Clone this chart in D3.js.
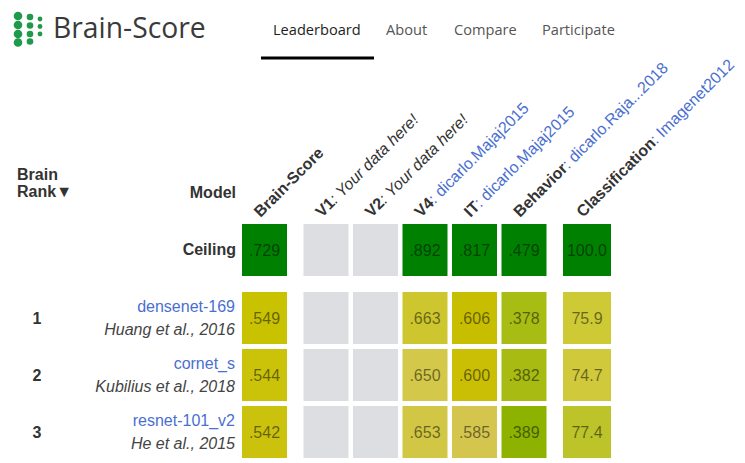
<!DOCTYPE html>
<html><head><meta charset="utf-8">
<script src="https://cdn.jsdelivr.net/npm/d3@7"></script>
<style>
html,body{margin:0;padding:0;background:#fff;}
svg{display:block;}
</style></head>
<body>
<svg id="chart" width="745" height="463"></svg>
<script>
// ---------- data ----------
const navItems = ["Leaderboard", "About", "Compare", "Participate"];
const columns = ["Brain-Score", "V1", "V2", "V4", "IT", "Behavior", "Classification"];
const columnGroups = [0, 1, 1, 1, 1, 1, 2];
const columnSubtitles = ["", ": Your data here!", ": Your data here!", ": dicarlo.Majaj2015", ": dicarlo.Majaj2015", ": dicarlo.Raja...2018", ": Imagenet2012"];
const subtitleIsLink = [false, false, false, true, true, true, true];
const ceilingValues = [0.729, null, null, 0.892, 0.817, 0.479, 100.0];
const ranks = [1, 2, 3];
const models = ["densenet-169", "cornet_s", "resnet-101_v2"];
const authors = ["Huang et al., 2016", "Kubilius et al., 2018", "He et al., 2015"];
const scoresDensenet = [0.549, null, null, 0.663, 0.606, 0.378, 75.9];
const scoresCornet = [0.544, null, null, 0.650, 0.600, 0.382, 74.7];
const scoresResnet = [0.542, null, null, 0.653, 0.585, 0.389, 77.4];
const modelScores = [scoresDensenet, scoresCornet, scoresResnet];
// cell colours as shown on the leaderboard
const ceilingColor = "#008000";
const emptyColor = "#dddee1";
const cellColors = [
  ["#c9c200", null, null, "#cdc62e", "#c8be00", "#a8bd14", "#cdca36"],
  ["#cac30a", null, null, "#d4c84a", "#cbbf05", "#a7bb12", "#d0c93c"],
  ["#cbc20e", null, null, "#d2c744", "#d4c54e", "#8db300", "#bcc42a"]
];

// ---------- drawing ----------
const svg = d3.select("#chart");
const sans = "'Liberation Sans', Arial, sans-serif";
const navFont = "'Open Sans', sans-serif";
const linkColor = "#4a6fd0";

// logo
const logoDots = [
  {cx: 18, cy: 16, r: 4.3}, {cx: 18, cy: 25, r: 4.3}, {cx: 18, cy: 34, r: 4.3}, {cx: 18, cy: 42.5, r: 4.3},
  {cx: 30, cy: 17, r: 3.3}, {cx: 30, cy: 25.5, r: 3.3}, {cx: 30, cy: 34, r: 3.3}, {cx: 30, cy: 41.5, r: 3.3},
  {cx: 40, cy: 19, r: 2.4}, {cx: 40, cy: 26.5, r: 2.4}, {cx: 40, cy: 34, r: 2.4}
];
svg.append("g").selectAll("circle").data(logoDots).join("circle")
  .attr("cx", d => d.cx).attr("cy", d => d.cy).attr("r", d => d.r).attr("fill", "#1e9a4a");
svg.append("text").attr("x", 53).attr("y", 38).attr("font-family", navFont)
  .attr("font-size", 28.3).attr("fill", "#3a3a3a").text("Brain-Score");

// nav
const navX = [273, 386, 454, 542];
svg.append("g").selectAll("text").data(navItems).join("text")
  .attr("x", (d, i) => navX[i]).attr("y", 34.5)
  .attr("font-family", navFont).attr("font-size", 14.6)
  .attr("fill", (d, i) => i === 0 ? "#1e1e1e" : "#555")
  .text(d => d);
svg.append("rect").attr("x", 261).attr("y", 56.5).attr("width", 113).attr("height", 3).attr("fill", "#000");

// scales
const step = 49.5, pad = 4.5 / 49.5;
const colBand = d3.scaleBand().domain(columns).range([242, 242 + step * (columns.length - pad)]).paddingInner(pad).paddingOuter(0);
const groupGap = 12;
const xCol = c => colBand(c) + columnGroups[columns.indexOf(c)] * groupGap;
const cellW = c => c === "Classification" ? 48 : colBand.bandwidth();
const rowStep = 57, rowPad = 5 / 57;
const rowBand = d3.scaleBand().domain(ranks).range([292, 292 + rowStep * (ranks.length - rowPad)]).paddingInner(rowPad).paddingOuter(0);
const ceilingY = 224;
const cellH = rowBand.bandwidth();
const fmt = (c, v) => c === "Classification" ? d3.format(".1f")(v) : d3.format(".3f")(v).replace(/^0/, "");

// headers
const hdr = svg.append("g").selectAll("text").data(columns).join("text")
  .attr("transform", c => `translate(${xCol(c) + cellW(c) / 2 - 4},218) rotate(-45)`)
  .attr("font-family", sans).attr("font-size", 16);
hdr.append("tspan").attr("font-weight", "bold").attr("fill", "#333").text(c => c);
hdr.append("tspan")
  .attr("fill", (c, i) => subtitleIsLink[i] ? linkColor : "#333")
  .attr("font-style", (c, i) => subtitleIsLink[i] ? "normal" : "italic")
  .text((c, i) => columnSubtitles[i]);

// left headers
const lh = svg.append("g").attr("font-family", sans).attr("font-size", 16).attr("font-weight", "bold").attr("fill", "#333");
lh.append("text").attr("x", 17).attr("y", 180).text("Brain");
lh.append("text").attr("x", 17).attr("y", 197).text("Rank\u25BC");
lh.append("text").attr("x", 236).attr("y", 198).attr("text-anchor", "end").text("Model");
lh.append("text").attr("x", 236).attr("y", 255).attr("text-anchor", "end").text("Ceiling");

// ceiling cells
const ceilG = svg.append("g").selectAll("g").data(columns).join("g");
ceilG.append("rect").attr("x", c => xCol(c)).attr("y", ceilingY).attr("width", c => cellW(c)).attr("height", cellH)
  .attr("fill", (c, i) => ceilingValues[i] == null ? emptyColor : ceilingColor);
ceilG.filter((c, i) => ceilingValues[i] != null).append("text")
  .attr("x", c => xCol(c) + cellW(c) / 2).attr("y", ceilingY + cellH / 2 + 5.5)
  .attr("text-anchor", "middle").attr("font-family", sans).attr("font-size", 16)
  .attr("fill", "#000").attr("fill-opacity", 0.5)
  .text(c => fmt(c, ceilingValues[columns.indexOf(c)]));

// model rows
ranks.forEach((rk, r) => {
  const y0 = rowBand(rk);
  const g = svg.append("g");
  g.append("text").attr("x", 37).attr("y", y0 + cellH / 2 + 5.5).attr("text-anchor", "middle")
    .attr("font-family", sans).attr("font-size", 16).attr("font-weight", "bold").attr("fill", "#333").text(rk);
  g.append("text").attr("x", 235).attr("y", y0 + 20).attr("text-anchor", "end")
    .attr("font-family", sans).attr("font-size", 16).attr("fill", linkColor).text(models[r]);
  g.append("text").attr("x", 235).attr("y", y0 + 43).attr("text-anchor", "end")
    .attr("font-family", sans).attr("font-size", 16).attr("font-style", "italic").attr("fill", "#444").text(authors[r]);
  const cells = g.selectAll("g.cell").data(columns).join("g").attr("class", "cell");
  cells.append("rect").attr("x", c => xCol(c)).attr("y", y0).attr("width", c => cellW(c)).attr("height", cellH)
    .attr("fill", (c, i) => modelScores[r][i] == null ? emptyColor : cellColors[r][i]);
  cells.filter((c, i) => modelScores[r][i] != null).append("text")
    .attr("x", c => xCol(c) + cellW(c) / 2).attr("y", y0 + cellH / 2 + 5.5)
    .attr("text-anchor", "middle").attr("font-family", sans).attr("font-size", 16)
    .attr("fill", "#000").attr("fill-opacity", 0.5)
    .text(c => fmt(c, modelScores[r][columns.indexOf(c)]));
});
</script>
</body></html>
